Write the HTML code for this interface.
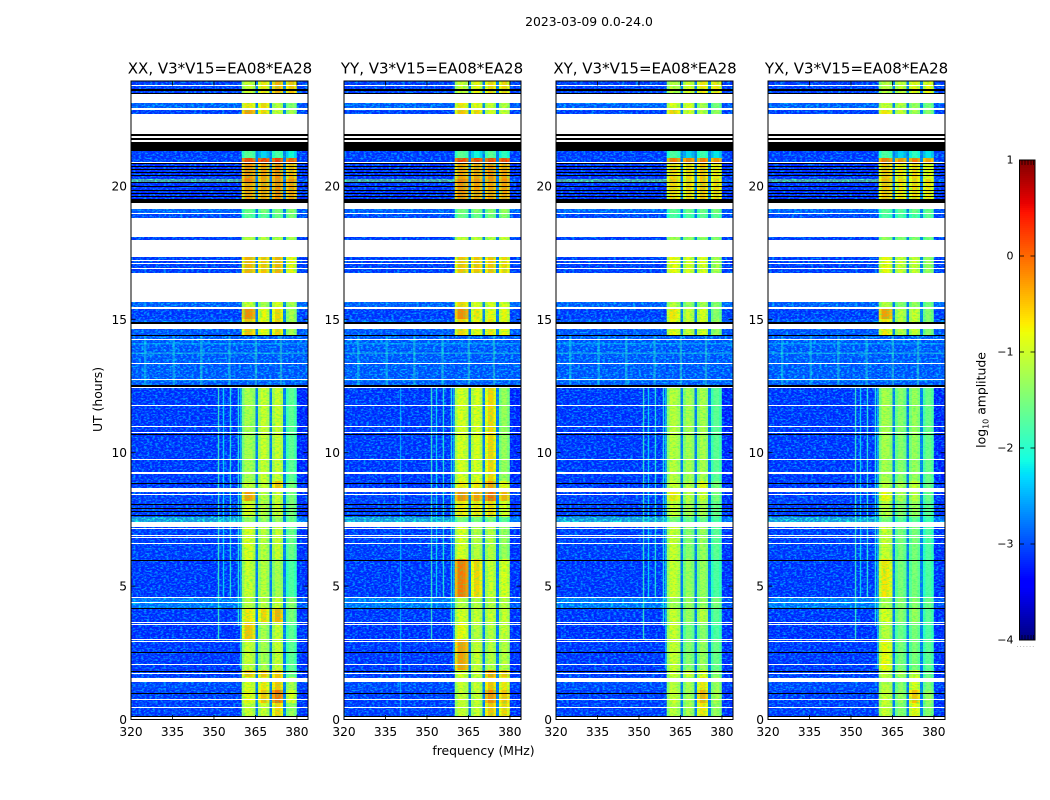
<!DOCTYPE html>
<html lang="en">
<head>
<meta charset="utf-8">
<title>2023-03-09 0.0-24.0 amplitude spectrograms</title>
<style>
html,body{margin:0;padding:0;background:#fff;width:1050px;height:800px;overflow:hidden}
svg{display:block}
text{font-family:"DejaVu Sans","Liberation Sans",sans-serif;fill:#000}
</style>
</head>
<body>
<svg id="chart" xmlns="http://www.w3.org/2000/svg" width="1050" height="800" viewBox="0 0 1050 800">
<defs>
<filter id="speckle" x="0" y="0" width="100%" height="100%" color-interpolation-filters="sRGB">
<feTurbulence type="fractalNoise" baseFrequency="0.36 0.62" numOctaves="2" seed="4"/>
<feColorMatrix type="matrix" values="0 0 0 0 0  3.4 0 0 0 -1.5  0 0 0 0 1  0 0 0 0 0.45"/>
</filter>
<filter id="band-speckle" x="0" y="0" width="100%" height="100%" color-interpolation-filters="sRGB">
<feTurbulence type="fractalNoise" baseFrequency="0.3 0.7" numOctaves="2" seed="9"/>
<feColorMatrix type="matrix" values="0 0 0 0 0.1  0 0 0 0 1  0 0 0 0 0.45  1.3 0 0 0 -0.55"/>
</filter>
</defs>
</svg>
<script>
const figureTitle = "2023-03-09 0.0-24.0";
const panelTitles = ["XX, V3*V15=EA08*EA28", "YY, V3*V15=EA08*EA28", "XY, V3*V15=EA08*EA28", "YX, V3*V15=EA08*EA28"];
const freqTicks = [320, 335, 350, 365, 380];
const utTicks = [0, 5, 10, 15, 20];
const colorTicks = [1, 0, -1, -2, -3, -4];
const channelCount = 64;
const channelStartMHz = 320;

const utSpans = [[0.08,0.6],[0.6,1.1],[1.1,1.6],[1.6,1.85],[1.85,3.0],[3.0,3.6],[3.6,4.15],[4.15,4.55],[4.55,6.0],[6.0,7.4],[7.4,7.6],[7.6,8.2],[8.2,8.6],[8.6,8.95],[8.95,12.45],[12.45,14.4],[14.4,15.0],[15.0,15.45],[15.45,15.7],[16.7,17.35],[17.95,18.1],[18.75,19.0],[19.0,19.2],[19.4,20.1],[20.1,20.25],[20.25,20.85],[20.85,21.05],[21.05,21.35],[22.7,22.9],[22.9,23.15],[23.4,23.95]];
const backgroundLevels = [-3.0,-3.0,-2.9,-3.0,-3.05,-3.1,-3.05,-2.5,-3.05,-3.0,-2.0,-3.0,-3.0,-3.05,-3.05,-2.75,-2.8,-3.0,-2.7,-3.0,-3.0,-2.9,-2.7,-3.1,-1.5,-3.1,-3.0,-3.0,-3.0,-2.7,-3.0];
const edgeLevels = [-3.1,-3.1,-3.0,-3.1,-3.1,-3.1,-3.1,-2.8,-3.1,-3.1,-2.5,-3.1,-3.1,-3.1,-3.2,-2.75,-2.8,-3.0,-2.6,-3.0,-3.0,-2.9,-2.8,-3.1,-2.8,-3.1,-3.0,-3.0,-3.0,-2.8,-3.0];

const bandXX = [[-1.0,-1.0,-0.6,-1.3],[-0.8,-0.5,-0.05,-0.9],[-0.9,-0.7,-0.5,-1.2],[-0.5,-0.5,-0.5,-1.6],[-1.0,-1.2,-1.0,-1.7],[-0.5,-1.2,-1.0,-1.7],[-0.7,-0.6,-0.4,-1.5],[-1.1,-1.1,-1.0,-1.4],[-1.0,-1.1,-1.2,-1.8],[-0.9,-1.1,-1.0,-1.6],[-1.3,-1.3,-1.3,-1.6],[-0.9,-1.1,-1.0,-1.5],[-0.3,-1.1,-1.0,-1.5],[-1.0,-1.0,-0.5,-1.5],[-1.2,-1.0,-1.0,-1.7],[-2.75,-2.75,-2.75,-2.75],[-0.5,-0.8,-0.6,-1.2],[-0.2,-0.8,-0.6,-1.2],[-1.0,-1.2,-0.9,-1.2],[-0.4,-0.5,-0.4,-0.8],[-1.1,-1.1,-1.1,-1.2],[-1.7,-1.7,-1.6,-1.5],[-1.6,-1.5,-1.5,-1.4],[-0.3,-0.3,-0.2,-0.3],[-0.1,-0.3,-0.2,-0.2],[-0.2,-0.3,-0.2,-0.4],[0.2,0.25,0.25,0.1],[-1.7,-2.4,-1.8,-2.2],[-0.3,-0.6,-1.0,-1.2],[-0.7,-0.6,-1.1,-1.4],[-1.0,-0.7,-0.4,-0.5]];
const bandYY = [[-1.0,-1.0,-0.5,-0.6],[-1.0,-1.0,-0.2,-0.5],[-1.0,-1.0,-0.5,-0.7],[-0.9,-1.0,-0.3,-0.5],[-0.3,-1.0,-1.1,-1.1],[-0.8,-1.1,-1.1,-1.0],[-0.9,-1.0,-1.0,-1.0],[-1.1,-1.1,-1.1,-1.1],[-0.1,-0.6,-1.0,-0.9],[-0.9,-1.1,-1.1,-1.3],[-1.5,-1.5,-1.5,-1.7],[-0.7,-0.7,-0.6,-0.9],[-0.2,-0.3,0.0,-0.4],[-0.7,-0.7,-0.3,-0.8],[-0.9,-0.9,-0.6,-1.3],[-2.75,-2.75,-2.75,-2.75],[-0.6,-0.8,-0.7,-0.8],[-0.2,-0.7,-0.8,-0.8],[-0.6,-0.9,-0.9,-0.9],[-0.5,-0.5,-0.5,-0.6],[-1.0,-1.0,-1.1,-1.0],[-1.6,-1.6,-1.5,-1.4],[-1.5,-1.4,-1.4,-1.3],[-0.2,-0.3,-0.3,-0.3],[-0.1,-0.2,-0.2,-0.2],[-0.3,-0.3,-0.2,-0.3],[0.2,0.2,0.2,0.2],[-1.7,-2.2,-1.7,-2.0],[-0.5,-0.6,-0.9,-1.0],[-0.7,-0.8,-1.0,-1.1],[-1.0,-0.8,-0.6,-0.6]];
const bandXY = [[-1.1,-1.2,-0.7,-1.3],[-1.0,-1.2,-0.4,-1.2],[-1.1,-1.2,-0.7,-1.3],[-1.0,-1.0,-0.9,-1.4],[-1.0,-1.4,-1.3,-1.6],[-1.0,-1.5,-1.4,-1.8],[-1.0,-1.3,-1.1,-1.7],[-1.2,-1.3,-1.3,-1.5],[-1.0,-1.3,-1.3,-1.8],[-1.0,-1.4,-1.3,-1.7],[-1.5,-1.6,-1.6,-1.8],[-1.0,-1.2,-1.2,-1.6],[-0.7,-1.1,-1.0,-1.5],[-1.0,-1.1,-0.8,-1.5],[-1.1,-1.2,-1.2,-1.7],[-2.75,-2.75,-2.75,-2.75],[-0.8,-1.0,-0.9,-1.3],[-0.7,-1.0,-0.9,-1.4],[-1.1,-1.3,-1.2,-1.4],[-0.8,-0.9,-0.9,-1.2],[-1.2,-1.3,-1.3,-1.4],[-1.8,-1.8,-1.7,-1.7],[-1.7,-1.6,-1.6,-1.5],[-0.6,-0.6,-0.5,-0.6],[-0.5,-0.6,-0.5,-0.6],[-0.6,-0.6,-0.5,-0.7],[-0.1,-0.1,-0.1,-0.2],[-1.8,-2.4,-1.9,-2.3],[-0.6,-0.9,-1.1,-1.3],[-0.9,-0.9,-1.2,-1.5],[-1.1,-0.9,-0.7,-0.7]];
const bandYX = [[-1.0,-1.4,-0.8,-1.4],[-1.0,-1.3,-0.5,-1.3],[-1.1,-1.4,-0.9,-1.5],[-1.0,-1.2,-1.0,-1.6],[-0.8,-1.5,-1.5,-1.7],[-1.1,-1.6,-1.5,-1.8],[-0.9,-1.4,-1.3,-1.7],[-1.2,-1.4,-1.4,-1.6],[-0.7,-1.5,-1.5,-1.8],[-1.0,-1.5,-1.5,-1.8],[-1.5,-1.7,-1.7,-1.9],[-1.1,-1.4,-1.3,-1.7],[-0.8,-1.2,-1.1,-1.6],[-1.1,-1.2,-1.0,-1.6],[-1.2,-1.4,-1.3,-1.6],[-2.75,-2.75,-2.75,-2.75],[-0.7,-1.1,-1.0,-1.4],[-0.3,-1.1,-1.0,-1.4],[-1.1,-1.4,-1.3,-1.5],[-0.8,-1.0,-1.0,-1.3],[-1.3,-1.4,-1.4,-1.5],[-1.8,-1.8,-1.8,-1.7],[-1.7,-1.7,-1.6,-1.6],[-0.5,-0.7,-0.6,-0.7],[-0.4,-0.6,-0.6,-0.6],[-0.5,-0.7,-0.6,-0.8],[-0.1,-0.2,-0.1,-0.3],[-1.8,-2.4,-2.0,-2.3],[-0.7,-1.0,-1.2,-1.4],[-1.0,-1.1,-1.3,-1.5],[-1.1,-1.0,-0.8,-0.8]];
const panelBands = [bandXX, bandYY, bandXY, bandYX];
const notchLevel = -2.8;
const subbandShape = [-0.3, 0.05, 0.05, 0.0, -0.15];
const subbandShapeShort = [-0.2, 0.05, 0.05, -0.15];

const rfiLines = [[351.4,-1.9,3.0,12.45],[353.2,-2.2,4.6,12.45],[355.7,-2.0,4.6,12.45],[358.6,-2.0,3.5,12.45],[359.4,-2.4,1.9,12.45]];
const combLines = [[324.7,-2.1,12.45,14.4],[335,-2.1,12.45,14.4],[345,-2.0,12.45,14.4],[355.2,-2.0,12.45,14.4],[364.7,-1.9,12.45,14.4],[373.8,-1.9,12.45,14.4]];
const yyExtraLines = [[340.2,-2.3,0.1,12.45]];
const horizontalLines = [[13.75,-2.0],[12.75,-2.2],[14.1,-2.2]];

const whiteRows = [[0,0.08],[0.43,0.47],[0.72,0.76],[1.42,1.54],[1.72,1.76],[2.05,2.09],[2.92,2.96],[2.98,3.02],[3.55,3.59],[3.63,3.67],[4.37,4.41],[4.54,4.58],[6.56,6.6],[6.79,6.83],[6.89,6.93],[7.13,7.17],[7.23,7.41],[8.4,8.44],[8.53,8.68],[9.22,9.26],[9.71,9.75],[10.72,10.76],[10.95,10.99],[11.76,11.8],[12.42,12.46],[12.72,12.76],[13.31,13.35],[14.22,14.26],[14.64,14.84],[15.39,15.46],[15.65,16.73],[16.9,16.94],[17.07,17.11],[17.18,17.22],[17.33,17.97],[18.08,18.8],[18.95,18.98],[19.13,19.36],[20.86,20.89],[21.66,21.72],[21.78,21.87],[21.94,22.71],[22.86,22.92],[23.11,23.46],[23.74,23.78]];
const blackRows = [[0.08,0.12],[0.94,0.98],[1.79,1.83],[2.48,2.52],[4.15,4.19],[5.95,5.99],[7.63,7.67],[7.76,7.8],[7.9,7.94],[8.04,8.08],[8.81,8.85],[10.65,10.69],[12.47,12.52],[14.38,14.43],[14.84,14.9],[19.36,19.5],[19.58,19.63],[19.7,19.75],[19.81,19.86],[19.96,20.01],[20.11,20.16],[20.37,20.42],[20.48,20.53],[20.6,20.65],[20.71,20.76],[20.82,20.86],[21.31,21.66],[21.72,21.78],[21.87,21.94],[23.46,23.5],[23.55,23.58],[23.62,23.65]];

const panelLeft = [131, 344, 556, 768];
const panelTitleCenter = [220, 432, 645, 856.5];
const NS = "http://www.w3.org/2000/svg";
const root = document.getElementById("chart");
const jetR = [[0,0],[0.35,0],[0.66,1],[0.89,1],[1,0.5]];
const jetG = [[0,0],[0.125,0],[0.375,1],[0.64,1],[0.91,0],[1,0]];
const jetB = [[0,0.5],[0.11,1],[0.34,1],[0.65,0],[1,0]];

function lerp(seg, t) {
  for (let i = 1; i < seg.length; i++) {
    if (t <= seg[i][0]) {
      const a = seg[i - 1], b = seg[i];
      return a[1] + (b[1] - a[1]) * (t - a[0]) / (b[0] - a[0]);
    }
  }
  return seg[seg.length - 1][1];
}
function colorOf(v) {
  const t = Math.max(0, Math.min(1, (v + 4) / 5));
  return "rgb(" + Math.round(lerp(jetR, t) * 255) + "," + Math.round(lerp(jetG, t) * 255) + "," + Math.round(lerp(jetB, t) * 255) + ")";
}
const yScale = ut => 719.5 - ut * 26.68;
const freqScale = left => mhz => left + (mhz - channelStartMHz) * 177 / channelCount;
const colorScale = v => 256 - v * 96;
function el(parent, tag, attrs, txt) {
  const n = document.createElementNS(NS, tag);
  for (const k in attrs) n.setAttribute(k, attrs[k]);
  if (txt !== undefined) n.textContent = txt;
  parent.appendChild(n);
  return n;
}
function rowBox(row) {
  const top = Math.round(yScale(row[1]));
  const bottom = Math.round(yScale(row[0]));
  return {y: top, height: Math.max(1, bottom - top)};
}
function cellValue(p, s, ch) {
  const b = panelBands[p][s];
  const quiet = s === 15;
  if (ch === 45 || ch === 50 || ch === 55) return quiet ? b[0] : notchLevel;
  if (ch >= 40 && ch < 45) return b[0] + (quiet ? 0 : subbandShape[ch - 40]);
  if (ch >= 46 && ch < 50) return b[1] + (quiet ? 0 : subbandShapeShort[ch - 46]);
  if (ch >= 51 && ch < 55) return b[2] + (quiet ? 0 : subbandShapeShort[ch - 51]);
  if (ch >= 56 && ch < 60) return b[3] + (quiet ? 0 : subbandShapeShort[ch - 56]);
  if (ch >= 60) return edgeLevels[s];
  return backgroundLevels[s];
}

const mainTitle = el(root, "text", {x: 589, y: 26, "text-anchor": "middle", "font-size": 12.4}, figureTitle);



panelTitles.forEach((title, p) => {
  const left = panelLeft[p];
  const x = freqScale(left);
  const g = el(root, "g", {});
  
  

  utSpans.forEach((span, s) => {
    const box = rowBox(span);
    for (let ch = 0; ch < channelCount; ch++) {
      const cell = el(g, "rect", {x: x(channelStartMHz + ch), y: box.y, width: 177 / channelCount + 0.3, height: box.height, fill: colorOf(cellValue(p, s, ch)), "shape-rendering": "crispEdges"});
      
      
    }
  });

  const noiseA = el(g, "rect", {x: left, y: 81, width: x(360) - left, height: 638, filter: "url(#speckle)"});
  
  
  const noiseB = el(g, "rect", {x: x(380), y: 81, width: left + 177 - x(380), height: 638, filter: "url(#speckle)"});
  
  
  const quietBox = rowBox(utSpans[15]);
  const noiseC = el(g, "rect", {x: x(360), y: quietBox.y, width: x(380) - x(360), height: quietBox.height, filter: "url(#speckle)"});
  
  
  const noiseD = el(g, "rect", {x: x(360), y: yScale(12.45), width: x(380) - x(360), height: yScale(0) - yScale(12.45), filter: "url(#band-speckle)"});
  
  
  const noiseE = el(g, "rect", {x: x(360), y: 81, width: x(380) - x(360), height: yScale(14.4) - 81, filter: "url(#band-speckle)"});
  
  

  rfiLines.forEach(line => {
    const r = el(g, "rect", {x: x(line[0]), y: yScale(line[3]), width: 1.4, height: (line[3] - line[2]) * 26.68, fill: colorOf(line[1]), opacity: 0.8});
    
    
  });
  combLines.forEach(line => {
    const r = el(g, "rect", {x: x(line[0]), y: yScale(line[3]), width: 2.4, height: (line[3] - line[2]) * 26.68, fill: colorOf(line[1]), opacity: 0.4});
    
    
  });
  if (p === 1) {
    yyExtraLines.forEach(line => {
      const r = el(g, "rect", {x: x(line[0]), y: yScale(line[3]), width: 1.4, height: (line[3] - line[2]) * 26.68, fill: colorOf(line[1]), opacity: 0.6});
      
      
    });
  }
  horizontalLines.forEach(line => {
    const r = el(g, "rect", {x: left, y: yScale(line[0]), width: 177, height: 1, fill: colorOf(line[1]), opacity: 0.55});
    
    
  });

  whiteRows.forEach(row => {
    const box = rowBox(row);
    const r = el(g, "rect", {x: left, y: box.y, width: 177, height: box.height, fill: "#fff", "shape-rendering": "crispEdges"});
    
    
  });
  blackRows.forEach(row => {
    const box = rowBox(row);
    const r = el(g, "rect", {x: left, y: box.y, width: 177, height: box.height, fill: "#000", "shape-rendering": "crispEdges"});
    
    
  });

  const frame = el(g, "rect", {x: left, y: 81, width: 177, height: 638.5, fill: "none", stroke: "#000", "stroke-width": 1});
  
  

  freqTicks.forEach(f => {
    const tx = x(f);
    const t1 = el(g, "line", {x1: tx, x2: tx, y1: 719.5, y2: 715, stroke: "#000", "stroke-width": 0.8});
    
    
    const t2 = el(g, "line", {x1: tx, x2: tx, y1: 81, y2: 85.5, stroke: "#000", "stroke-width": 0.8});
    
    
    const lab = el(g, "text", {x: tx, y: 736, "text-anchor": "middle", "font-size": 12.2}, String(f));
    
    
  });
  utTicks.forEach(u => {
    const ty = yScale(u);
    const t1 = el(g, "line", {x1: left, x2: left + 4.5, y1: ty, y2: ty, stroke: "#000", "stroke-width": 0.8});
    
    
    const t2 = el(g, "line", {x1: left + 177, x2: left + 172.5, y1: ty, y2: ty, stroke: "#000", "stroke-width": 0.8});
    
    
    const lab = el(g, "text", {x: left - 4, y: ty + 4.5, "text-anchor": "end", "font-size": 12.2}, String(u));
    
    
  });
  const pt = el(g, "text", {x: panelTitleCenter[p], y: 73.5, "text-anchor": "middle", "font-size": 15}, title);
  
  
});

const yTitle = el(root, "text", {transform: "translate(102,399.5) rotate(-90)", "text-anchor": "middle", "font-size": 12.4}, "UT (hours)");


const xTitle = el(root, "text", {x: 483.5, y: 755, "text-anchor": "middle", "font-size": 12.4}, "frequency (MHz)");



const cbar = el(root, "g", {});


for (let i = 0; i < 240; i++) {
  const v = 1 - (i + 0.5) * 5 / 240;
  const strip = el(cbar, "rect", {x: 1019.5, y: colorScale(v) - 1, width: 15.5, height: 2.3, fill: colorOf(v), "shape-rendering": "crispEdges"});
  
  
}
const cbFrame = el(cbar, "rect", {x: 1019.5, y: 160, width: 15.5, height: 480, fill: "none", stroke: "#000", "stroke-width": 1});


colorTicks.forEach(v => {
  const ty = colorScale(v);
  const a = el(cbar, "line", {x1: 1019.5, x2: 1024, y1: ty, y2: ty, stroke: "#000", "stroke-width": 0.8});
  
  
  const b = el(cbar, "line", {x1: 1035, x2: 1030.5, y1: ty, y2: ty, stroke: "#000", "stroke-width": 0.8});
  
  
  const lab = el(cbar, "text", {x: 1013.5, y: ty + 3.5, "text-anchor": "end", "font-size": 11}, v < 0 ? "\u2212" + (-v) : String(v));
  
  
});
[1022, 1025, 1028, 1031, 1033.5].forEach(mx => {
  const top = el(cbar, "line", {x1: mx, x2: mx, y1: 160, y2: 165, stroke: "#000", "stroke-width": 0.7});
  
  
  const bot = el(cbar, "line", {x1: mx, x2: mx, y1: 640, y2: 635, stroke: "#000", "stroke-width": 0.7});
  
  
});
const dots = el(cbar, "text", {x: 1026, y: 647, "text-anchor": "middle", "font-size": 6, "letter-spacing": "1.2"}, "......");


dots.style.fill = "#777";
const cbTitle = el(cbar, "text", {transform: "translate(985.5,400) rotate(-90)", "text-anchor": "middle", "font-size": 12.4});


el(cbTitle, "tspan", {}, "log");
el(cbTitle, "tspan", {dy: 3, "font-size": 8}, "10");
el(cbTitle, "tspan", {dy: -3}, " amplitude");
</script>
</body>
</html>
